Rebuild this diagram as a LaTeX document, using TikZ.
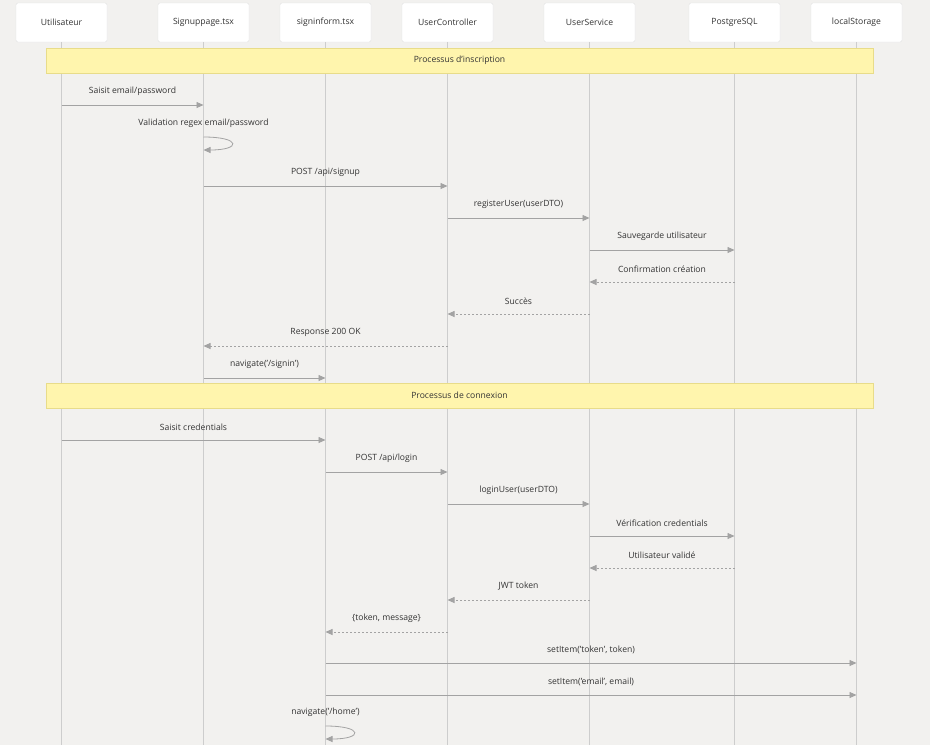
\documentclass[tikz,border=0pt]{standalone}
\usepackage{fontspec}
\setmainfont{Open Sans}
\usepackage{tikz}
\usetikzlibrary{positioning}
\usetikzlibrary{arrows.meta}
\definecolor{bgcol}{HTML}{F2F1EF}
\definecolor{boxline}{HTML}{E2E2E2}
\definecolor{lifecol}{HTML}{CDCDCD}
\definecolor{msgcol}{HTML}{A3A3A3}
\definecolor{txtcol}{HTML}{333333}
\definecolor{notefill}{HTML}{FFF5AD}
\definecolor{noteline}{HTML}{E8DC8A}
\tikzset{
        actor/.style={
          draw=boxline, fill=white, rounded corners=2pt,
          minimum width=91pt, minimum height=39pt,
          font=\fontsize{8.6}{10}\selectfont, text=txtcol
          },
        lifeline/.style={draw=lifecol, line width=1pt},
        notebox/.style={
          draw=noteline, fill=notefill, minimum width=827pt, minimum height=25pt,
          font=\fontsize{8.6}{10}\selectfont, text=txtcol
          },
        msg/.style={draw=msgcol, line width=0.8pt, -{Triangle[length=7pt, width=6pt]}},
        reply/.style={msg, dash pattern=on 2pt off 2pt},
        lbl/.style={font=\fontsize{8.6}{10}\selectfont, text=txtcol, inner sep=0pt},
}
\begin{document}
\begin{tikzpicture}[x=1pt, y=-1pt]
      % \draw[help lines, dashed] grid (930, 745);
      \fill[bgcol] (0,0) rectangle (930,745);
      \useasboundingbox (0,0) rectangle (930,745);

      % PARTICIPANTS
      \node[actor] (user) at (61.5,22.5) {Utilisateur};
      \node[actor] (signup) at (203.5,22.5) {Signuppage.tsx};
      \node[actor] (signin) at (325.5,22.5) {signinform.tsx};
      \node[actor] (ctrl) at (447.5,22.5) {UserController};
      \node[actor] (service) at (589.5,22.5) {UserService};
      \node[actor] (pg) at (734.5,22.5) {PostgreSQL};
      \node[actor] (store) at (856.5,22.5) {localStorage};

      % LIFELINES
      \coordinate (bottom) at (0,745);
      \draw[lifeline] (user.south) -- (user |- bottom);
      \draw[lifeline] (signup.south) -- (signup |- bottom);
      \draw[lifeline] (signin.south) -- (signin |- bottom);
      \draw[lifeline] (ctrl.south) -- (ctrl |- bottom);
      \draw[lifeline] (service.south) -- (service |- bottom);
      \draw[lifeline] (pg.south) -- (pg |- bottom);
      \draw[lifeline] (store.south) -- (store |- bottom);

      % INSCRIPTION
      \node[notebox] (note1) at (459.5,60.5) {Processus d'inscription};
      \coordinate (r1) at (0,105);
      \coordinate (r2a) at (0,137);
      \coordinate (r2b) at (0,150);
      \coordinate (r3) at (0,186);
      \coordinate (r4) at (0,218);
      \coordinate (r5) at (0,250);
      \coordinate (r6) at (0,282);
      \coordinate (r7) at (0,314);
      \coordinate (r8) at (0,346);
      \coordinate (r9) at (0,378);
      \draw[msg] (user |- r1) -- node[lbl, above=9pt]{Saisit email/password} (signup |- r1);
      \draw[msg] (signup |- r2a) node[lbl, above=9pt]{Validation regex email/password}
        .. controls +(38,0) and +(38,0) .. (signup |- r2b);
      \draw[msg] (signup |- r3) -- node[lbl, above=9pt]{POST /api/signup} (ctrl |- r3);
      \draw[msg] (ctrl |- r4) -- node[lbl, above=9pt]{registerUser(userDTO)} (service |- r4);
      \draw[msg] (service |- r5) -- node[lbl, above=9pt]{Sauvegarde utilisateur} (pg |- r5);
      \draw[reply] (pg |- r6) -- node[lbl, above=9pt]{Confirmation création} (service |- r6);
      \draw[reply] (service |- r7) -- node[lbl, above=9pt]{Succès} (ctrl |- r7);
      \draw[reply] (ctrl |- r8) -- node[lbl, above=9pt]{Response 200 OK} (signup |- r8);
      \draw[msg] (signup |- r9) -- node[lbl, above=9pt]{navigate('/signin')} (signin |- r9);

      % CONNEXION
      \node[notebox] (note2) at (459.5,395.5) {Processus de connexion};
      \coordinate (s1) at (0,440);
      \coordinate (s2) at (0,472);
      \coordinate (s3) at (0,504);
      \coordinate (s4) at (0,536);
      \coordinate (s5) at (0,568);
      \coordinate (s6) at (0,600);
      \coordinate (s7) at (0,632);
      \coordinate (s8) at (0,663);
      \coordinate (s9) at (0,695);
      \coordinate (s10a) at (0,726);
      \coordinate (s10b) at (0,739);
      \draw[msg] (user |- s1) -- node[lbl, above=9pt]{Saisit credentials} (signin |- s1);
      \draw[msg] (signin |- s2) -- node[lbl, above=9pt]{POST /api/login} (ctrl |- s2);
      \draw[msg] (ctrl |- s3) -- node[lbl, above=9pt]{loginUser(userDTO)} (service |- s3);
      \draw[msg] (service |- s4) -- node[lbl, above=9pt]{Vérification credentials} (pg |- s4);
      \draw[reply] (pg |- s5) -- node[lbl, above=9pt]{Utilisateur validé} (service |- s5);
      \draw[reply] (service |- s6) -- node[lbl, above=9pt]{JWT token} (ctrl |- s6);
      \draw[reply] (ctrl |- s7) -- node[lbl, above=9pt]{\{token, message\}} (signin |- s7);
      \draw[msg] (signin |- s8) -- node[lbl, above=9pt]{setItem('token', token)} (store |- s8);
      \draw[msg] (signin |- s9) -- node[lbl, above=9pt]{setItem('email', email)} (store |- s9);
      \draw[msg] (signin |- s10a) node[lbl, above=9pt]{navigate('/home')}
        .. controls +(38,0) and +(38,0) .. (signin |- s10b);
\end{tikzpicture}
\end{document}
